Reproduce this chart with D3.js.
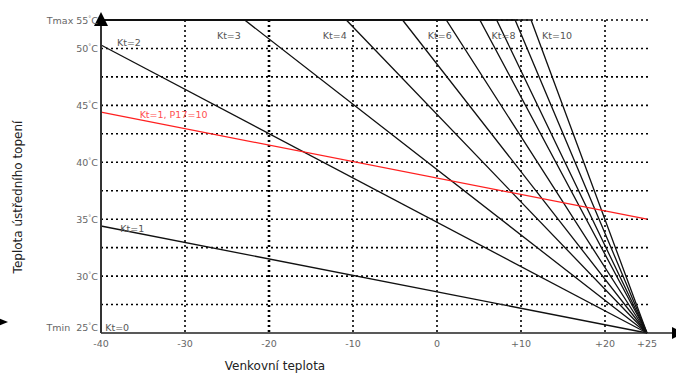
<!DOCTYPE html>
<html>
<head>
<meta charset="utf-8">
<script src="https://cdn.jsdelivr.net/npm/d3@7"></script>
<style>
  body { margin: 0; background: #fff; }
  svg { display: block; font-family: "DejaVu Sans", Verdana, sans-serif; }
</style>
</head>
<body>
<div id="chart"></div>
<script>
// outdoor temperature ticks
const xTicks = [-40, -30, -20, -10, 0, 10, 20, 25];
const xTickLabels = ["-40", "-30", "-20", "-10", "0", "+10", "+20", "+25"];
const xGrid = [-30, -20, -10, 0, 10, 20];

// water temperature: grid every 2.5, labels every 5, top is Tmax
const yGrid = [27.5, 30, 32.5, 35, 37.5, 40, 42.5, 45, 47.5, 50, 52.5];
const yTicks = [25, 30, 35, 40, 45, 50, 52.5];
const yTickLabels = ["Tmin  25", "30", "35", "40", "45", "50", "Tmax 55"];
const tMax = 52.5;
const tMin = 25;

// heating curves: start of the slope (x, y), all end at (+25, 25)
const curveNames = ["Kt=1", "Kt=2", "Kt=3", "Kt=4", "Kt=5", "Kt=6", "Kt=7", "Kt=8", "Kt=9", "Kt=10"];
const curveStartX = [-40, -40, -22.9, -10.8, -4.1, 1.1, 5.1, 7.1, 9.3, 11.2];
const curveStartY = [34.4, 50.3, 52.5, 52.5, 52.5, 52.5, 52.5, 52.5, 52.5, 52.5];

// shifted curve Kt=1, P17=10
const redX = [-40, 25];
const redY = [44.4, 35];

// curve labels (data coordinates)
const labelText = ["Kt=0", "Kt=1", "Kt=2", "Kt=3", "Kt=4", "Kt=6", "Kt=8", "Kt=10", "Kt=1, P17=10"];
const labelX = [-39.5, -37.7, -38.1, -26.2, -13.6, -1.1, 6.5, 12.5, -35.4];
const labelY = [25.2, 33.9, 50.2, 50.8, 50.8, 50.8, 50.8, 50.8, 43.9];

const width = 676, height = 374;

const svg = d3.select("#chart")
              .append("svg")
              .attr("width", width)
              .attr("height", height);

const x = d3.scaleLinear()
            .domain([-40, 25])
            .range([101, 647]);

const y = d3.scaleLinear()
            .domain([tMin, tMax])
            .range([333, 20]);

// dotted grid
svg.append("g")
   .selectAll("line")
   .data(yGrid)
   .enter()
   .append("line")
   .attr("x1", x(-40))
   .attr("x2", x(25) + 3)
   .attr("y1", d => y(d))
   .attr("y2", d => y(d))
   .attr("stroke", "#000")
   .attr("stroke-width", 1.6)
   .attr("stroke-dasharray", "2,3");

svg.append("g")
   .selectAll("line")
   .data(xGrid)
   .enter()
   .append("line")
   .attr("x1", d => x(d))
   .attr("x2", d => x(d))
   .attr("y1", y(tMax))
   .attr("y2", y(tMin))
   .attr("stroke", "#000")
   .attr("stroke-width", d => d === -20 ? 2.6 : 1.6)
   .attr("stroke-dasharray", "2,3");

// curves, clamped at Tmax
const line = d3.line().x(d => x(d[0])).y(d => y(d[1]));

const curves = curveNames.map((name, i) => {
    const pts = [];
    if (curveStartX[i] > -40) pts.push([-40, tMax]);
    pts.push([curveStartX[i], curveStartY[i]]);
    pts.push([25, tMin]);
    return pts;
});

svg.append("g")
   .selectAll("path")
   .data(curves)
   .enter()
   .append("path")
   .attr("d", line)
   .attr("fill", "none")
   .attr("stroke", "#111")
   .attr("stroke-width", 1.3);

svg.append("path")
   .datum(redX.map((v, i) => [v, redY[i]]))
   .attr("d", line)
   .attr("fill", "none")
   .attr("stroke", "#ff2020")
   .attr("stroke-width", 1.3);

// axes
svg.append("line")
   .attr("x1", x(-40)).attr("x2", width)
   .attr("y1", y(tMin)).attr("y2", y(tMin))
   .attr("stroke", "#222").attr("stroke-width", 1.6);

svg.append("line")
   .attr("x1", x(-40)).attr("x2", x(-40))
   .attr("y1", 18).attr("y2", y(tMin))
   .attr("stroke", "#333").attr("stroke-width", 2);

// arrow heads
svg.append("path")
   .attr("d", `M${x(-40) - 7},26 L${x(-40)},12 L${x(-40) + 7},26 Z`)
   .attr("fill", "#000");
svg.append("path")
   .attr("d", `M${width - 4},${y(tMin) - 6} L${width + 8},${y(tMin)} L${width - 4},${y(tMin) + 6} Z`)
   .attr("fill", "#000");
svg.append("path")
   .attr("d", "M-4,317 L8,322 L-4,327 Z")
   .attr("fill", "#000");

// tick labels
svg.append("g")
   .selectAll("text")
   .data(xTicks)
   .enter()
   .append("text")
   .attr("x", d => x(d))
   .attr("y", 347)
   .attr("text-anchor", "middle")
   .attr("font-size", 9.5)
   .attr("fill", "#666")
   .text((d, i) => xTickLabels[i]);

const yt = svg.append("g")
   .selectAll("text")
   .data(yTicks)
   .enter()
   .append("text")
   .attr("x", 98)
   .attr("y", d => d === tMin ? y(d) - 2 : y(d) + 4)
   .attr("text-anchor", "end")
   .attr("font-size", 9.5)
   .attr("fill", "#666")
   .attr("xml:space", "preserve");
yt.append("tspan").text((d, i) => yTickLabels[i]);
yt.append("tspan").attr("font-size", 6).attr("dy", -4).text("°");
yt.append("tspan").attr("dy", 4).text("C");

// curve labels
svg.append("g")
   .selectAll("text")
   .data(labelText)
   .enter()
   .append("text")
   .attr("x", (d, i) => x(labelX[i]))
   .attr("y", (d, i) => y(labelY[i]))
   .attr("font-size", 9.5)
   .attr("fill", d => d.indexOf("P17") >= 0 ? "#ff5050" : "#555")
   .text(d => d);

// axis titles
svg.append("text")
   .attr("x", 275)
   .attr("y", 370)
   .attr("text-anchor", "middle")
   .attr("font-size", 12)
   .attr("fill", "#222")
   .text("Venkovní teplota");

svg.append("text")
   .attr("transform", "translate(22,197) rotate(-90)")
   .attr("text-anchor", "middle")
   .attr("font-size", 12)
   .attr("fill", "#222")
   .text("Teplota ústředního topení");
</script>
</body>
</html>
